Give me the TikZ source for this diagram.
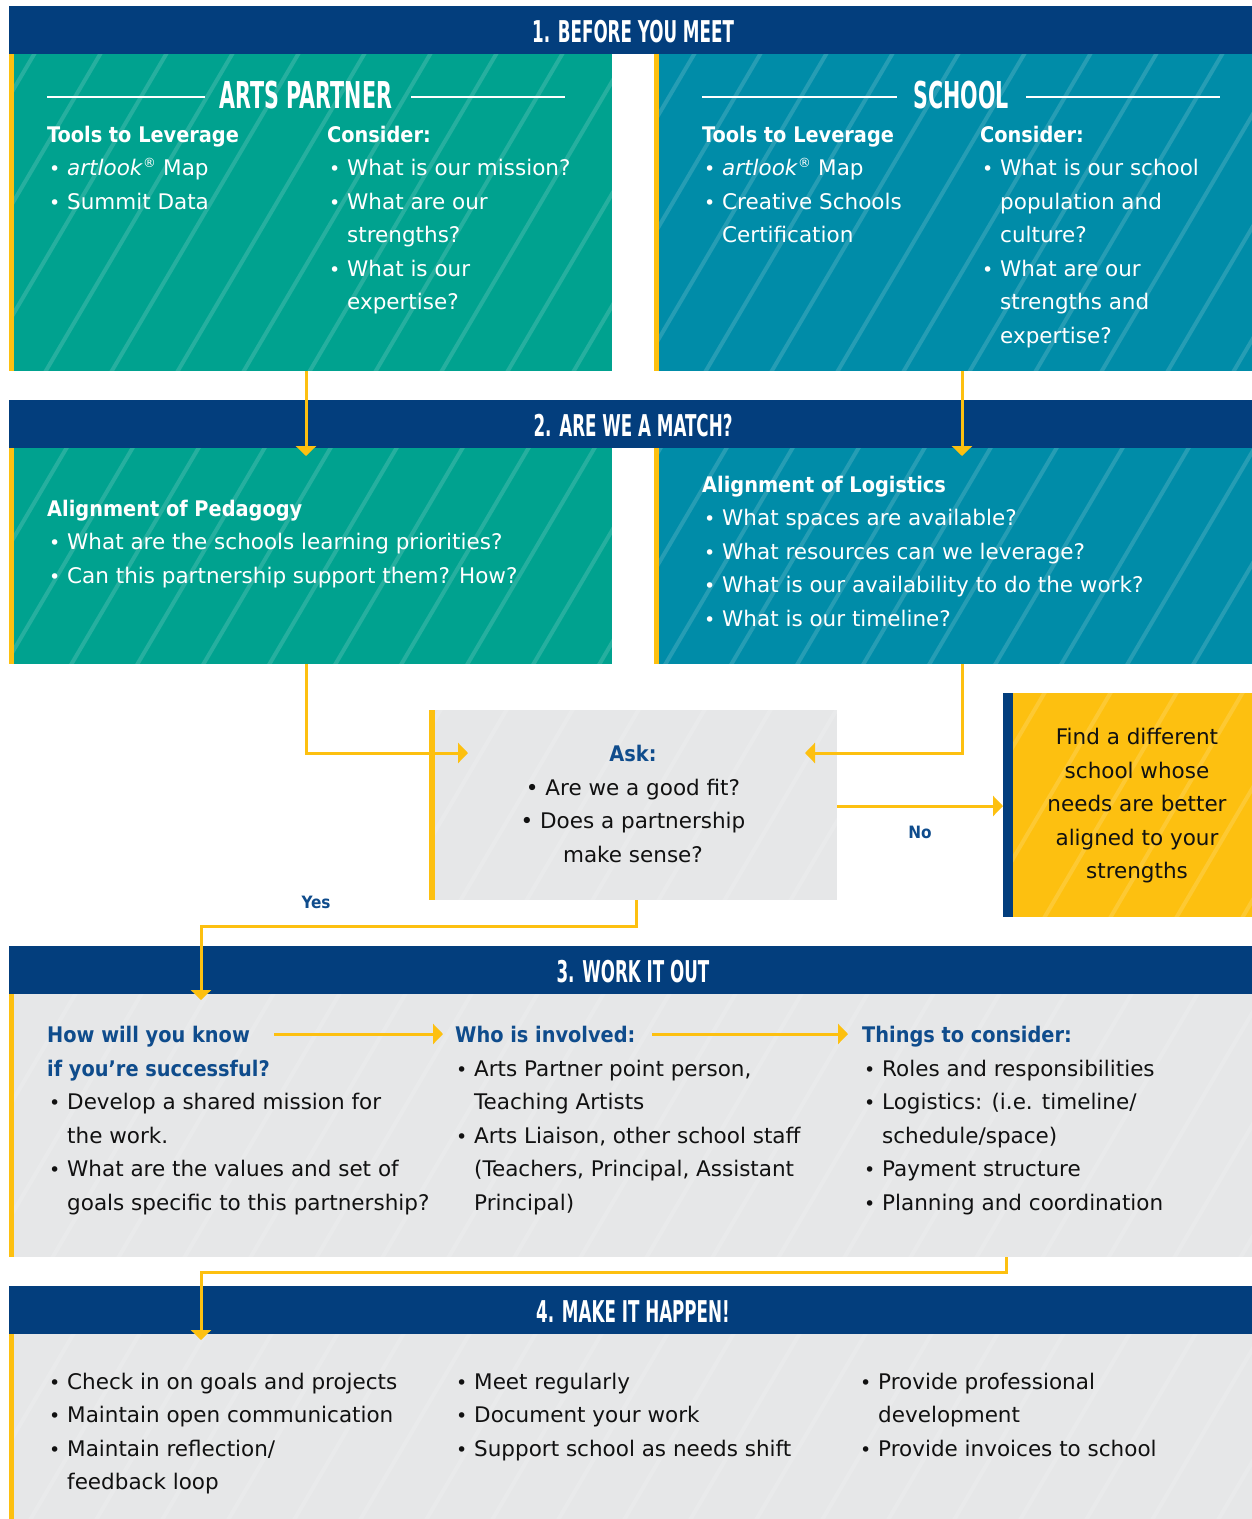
\documentclass[tikz,border=0pt]{standalone}
\usepackage{fontspec}
\setmainfont{DejaVu Sans}[BoldFont={DejaVu Sans Condensed Bold},ItalicFont={DejaVu Sans Oblique}]
\newfontfamily\hfont{DejaVu Sans Condensed Bold}
\usetikzlibrary{arrows.meta}
\definecolor{navy}{HTML}{033E7D}
\definecolor{tealA}{HTML}{00A28F}
\definecolor{blueA}{HTML}{008CA8}
\definecolor{gold}{HTML}{FDC010}
\definecolor{lgrey}{HTML}{E6E7E8}
\definecolor{ntext}{HTML}{0F4C8C}
\definecolor{btext}{HTML}{111111}
\newcommand\htext[1]{\scalebox{0.62}[1]{#1}}
\newcommand\stripes[1]{%
  \begin{scope}
    \clip (#1.north west) rectangle (#1.south east);
    \foreach \c in {0,66,...,2300}{\draw[stripe] (\c,0) -- ++(-941,1600);}
  \end{scope}}
\newcommand\bl[3]{%
  \node[bul] at (#1-4,#2) {•};
  \node[txt] at (#1+14,#2) {#3};}
\newcommand\cl[3]{\node[txt] at (#1+14,#2) {#3};}
\newcommand\reg{\textsuperscript{\scalebox{0.85}{®}}}
\begin{document}
\begin{tikzpicture}[x=1pt,y=-1pt,
  hdr/.style={fill=navy, anchor=north west, inner sep=0pt, minimum height=48pt, minimum width=1243pt},
  panel/.style={anchor=north west, inner sep=0pt},
  stripe/.style={draw=white, opacity=0.15, line width=4pt},
  htxt/.style={anchor=base, inner sep=0pt, text=white, font=\hfont\fontsize{30}{30}\selectfont},
  ttl/.style={anchor=base, inner sep=0pt, text=white, font=\hfont\fontsize{37}{37}\selectfont},
  txt/.style={anchor=base west, inner sep=0pt, font=\fontsize{21.5}{26}\selectfont},
  bul/.style={anchor=base west, inner sep=0pt, font=\fontsize{19}{26}\selectfont},
  ctxt/.style={anchor=base, inner sep=0pt, font=\fontsize{21.5}{26}\selectfont},
  hd/.style={anchor=base west, inner sep=0pt, font=\bfseries\fontsize{21.5}{26}\selectfont},
  lbl/.style={anchor=base, inner sep=0pt, text=ntext, font=\bfseries\fontsize{17}{20}\selectfont},
  conn/.style={draw=gold, line width=3pt, -{Triangle[width=20pt,length=10pt]}},
  rule/.style={draw=white, line width=1.5pt}
]
\useasboundingbox (0,0) rectangle (1252,1519);
\fill[white] (0,0) rectangle (1252,1519);

% ---------- panels ----------
\node[panel, fill=tealA, minimum width=603pt, minimum height=317pt] (ap) at (9,54) {};
\node[panel, fill=blueA, minimum width=598pt, minimum height=317pt] (sc) at (654,54) {};
\node[panel, fill=tealA, minimum width=603pt, minimum height=216pt] (ap2) at (9,448) {};
\node[panel, fill=blueA, minimum width=598pt, minimum height=216pt] (sc2) at (654,448) {};
\node[panel, fill=lgrey, minimum width=408pt, minimum height=190pt] (ask) at (429,710) {};
\node[panel, fill=gold, minimum width=249pt, minimum height=224pt] (find) at (1003,693) {};
\node[panel, fill=lgrey, minimum width=1243pt, minimum height=263pt] (wk) at (9,994) {};
\node[panel, fill=lgrey, minimum width=1243pt, minimum height=186pt] (mk) at (9,1333) {};
\stripes{ap}\stripes{sc}\stripes{ap2}\stripes{sc2}\stripes{ask}\stripes{find}\stripes{wk}\stripes{mk}
\fill[gold] (ap.north west) rectangle ([xshift=5pt]ap.south west);
\fill[gold] (sc.north west) rectangle ([xshift=5pt]sc.south west);
\fill[gold] (ap2.north west) rectangle ([xshift=5pt]ap2.south west);
\fill[gold] (sc2.north west) rectangle ([xshift=5pt]sc2.south west);
\fill[gold] (ask.north west) rectangle ([xshift=6pt]ask.south west);
\fill[navy] (find.north west) rectangle ([xshift=10pt]find.south west);
\fill[gold] (wk.north west) rectangle ([xshift=5pt]wk.south west);
\fill[gold] (mk.north west) rectangle ([xshift=5pt]mk.south west);

% ---------- header bars ----------
\node[hdr] (h1) at (9,6) {};
\node[hdr] (h2) at (9,400) {};
\node[hdr] (h3) at (9,946) {};
\node[hdr] (h4) at (9,1286) {};
\node[htxt] (h1t) at (633,42) {\htext{1. BEFORE YOU MEET}};
\node[htxt] (h2t) at (633,436) {\htext{2. ARE WE A MATCH?}};
\node[htxt] (h3t) at (633,982) {\htext{3. WORK IT OUT}};
\node[htxt] (h4t) at (633,1322) {\htext{4. MAKE IT HAPPEN!}};

% ---------- connectors ----------
\coordinate (c1s) at (306,371); \coordinate (c1e) at (306,456);
\coordinate (c2s) at (962,371); \coordinate (c2e) at (962,456);
\coordinate (c3s) at (306,664); \coordinate (c3e) at (468,753);
\coordinate (c4s) at (962,664); \coordinate (c4e) at (805,753);
\coordinate (c5s) at (837,806); \coordinate (c5e) at (1003,806);
\coordinate (c6s) at (636,900); \coordinate (c6m) at (636,926); \coordinate (c6e) at (201,1000);
\coordinate (c7s) at (274,1034); \coordinate (c7e) at (443,1034);
\coordinate (c8s) at (652,1034); \coordinate (c8e) at (848,1034);
\coordinate (c9s) at (1006,1257); \coordinate (c9m) at (1006,1272); \coordinate (c9e) at (201,1340);
\draw[conn] (c1s) -- (c1e);
\draw[conn] (c2s) -- (c2e);
\draw[conn] (c3s) |- (c3e);
\draw[conn] (c4s) |- (c4e);
\draw[conn] (c5s) -- (c5e);
\draw[conn] (c6s) -- (c6m) -| (c6e);
\draw[conn] (c7s) -- (c7e);
\draw[conn] (c8s) -- (c8e);
\draw[conn] (c9s) -- (c9m) -| (c9e);
\node[lbl] (no) at (920,838) {No};
\node[lbl] (yes) at (316,908) {Yes};

% ---------- section 1 ----------
\begin{scope}[every node/.append style={text=white}]
\draw[rule] (47,97) -- (205,97); \draw[rule] (411,97) -- (565,97);
\node[ttl] (apt) at (306,108) {\htext{ARTS PARTNER}};
\draw[rule] (702,97) -- (897,97); \draw[rule] (1026,97) -- (1220,97);
\node[ttl] (sct) at (961,108) {\htext{SCHOOL}};

\node[hd] at (47,142) {Tools to Leverage};
\bl{53}{175.5}{\textit{artlook}\reg{} Map}
\bl{53}{209}{Summit Data}
\node[hd] at (327,142) {Consider:};
\bl{333}{175.5}{What is our mission?}
\bl{333}{209}{What are our}
\cl{333}{242.5}{strengths?}
\bl{333}{276}{What is our}
\cl{333}{309.5}{expertise?}

\node[hd] at (702,142) {Tools to Leverage};
\bl{708}{175.5}{\textit{artlook}\reg{} Map}
\bl{708}{209}{Creative Schools}
\cl{708}{242.5}{Certification}
\node[hd] at (980,142) {Consider:};
\bl{986}{175.5}{What is our school}
\cl{986}{209}{population and}
\cl{986}{242.5}{culture?}
\bl{986}{276}{What are our}
\cl{986}{309.5}{strengths and}
\cl{986}{343}{expertise?}

% ---------- section 2 ----------
\node[hd] at (47,516) {Alignment of Pedagogy};
\bl{53}{549.5}{What are the schools learning priorities?}
\bl{53}{583}{Can this partnership support them? How?}
\node[hd] at (702,492) {Alignment of Logistics};
\bl{708}{525.5}{What spaces are available?}
\bl{708}{559}{What resources can we leverage?}
\bl{708}{592.5}{What is our availability to do the work?}
\bl{708}{626}{What is our timeline?}
\end{scope}

% ---------- ask / find ----------
\begin{scope}[every node/.append style={text=btext}]
\node[ctxt, text=ntext, font=\bfseries\fontsize{21.5}{26}\selectfont] at (633,761) {Ask:};
\node[ctxt] at (633,795) {• Are we a good fit?};
\node[ctxt] at (633,828) {• Does a partnership};
\node[ctxt] at (633,862) {make sense?};
\node[ctxt] at (1137,744) {Find a different};
\node[ctxt] at (1137,778) {school whose};
\node[ctxt] at (1137,811) {needs are better};
\node[ctxt] at (1137,845) {aligned to your};
\node[ctxt] at (1137,878) {strengths};

% ---------- section 3 ----------
\node[hd, text=ntext] at (47,1042) {How will you know};
\node[hd, text=ntext] at (47,1076) {if you’re successful?};
\bl{53}{1109}{Develop a shared mission for}
\cl{53}{1143}{the work.}
\bl{53}{1176}{What are the values and set of}
\cl{53}{1210}{goals specific to this partnership?}

\node[hd, text=ntext] at (455,1042) {Who is involved:};
\bl{460}{1076}{Arts Partner point person,}
\cl{460}{1109}{Teaching Artists}
\bl{460}{1143}{Arts Liaison, other school staff}
\cl{460}{1176}{(Teachers, Principal, Assistant}
\cl{460}{1210}{Principal)}

\node[hd, text=ntext] at (862,1042) {Things to consider:};
\bl{868}{1076}{Roles and responsibilities}
\bl{868}{1109}{Logistics: (i.e. timeline/}
\cl{868}{1143}{schedule/space)}
\bl{868}{1176}{Payment structure}
\bl{868}{1210}{Planning and coordination}

% ---------- section 4 ----------
\bl{53}{1389}{Check in on goals and projects}
\bl{53}{1422}{Maintain open communication}
\bl{53}{1456}{Maintain reflection/}
\cl{53}{1489}{feedback loop}
\bl{460}{1389}{Meet regularly}
\bl{460}{1422}{Document your work}
\bl{460}{1456}{Support school as needs shift}
\bl{864}{1389}{Provide professional}
\cl{864}{1422}{development}
\bl{864}{1456}{Provide invoices to school}
\end{scope}
\end{tikzpicture}
\end{document}
